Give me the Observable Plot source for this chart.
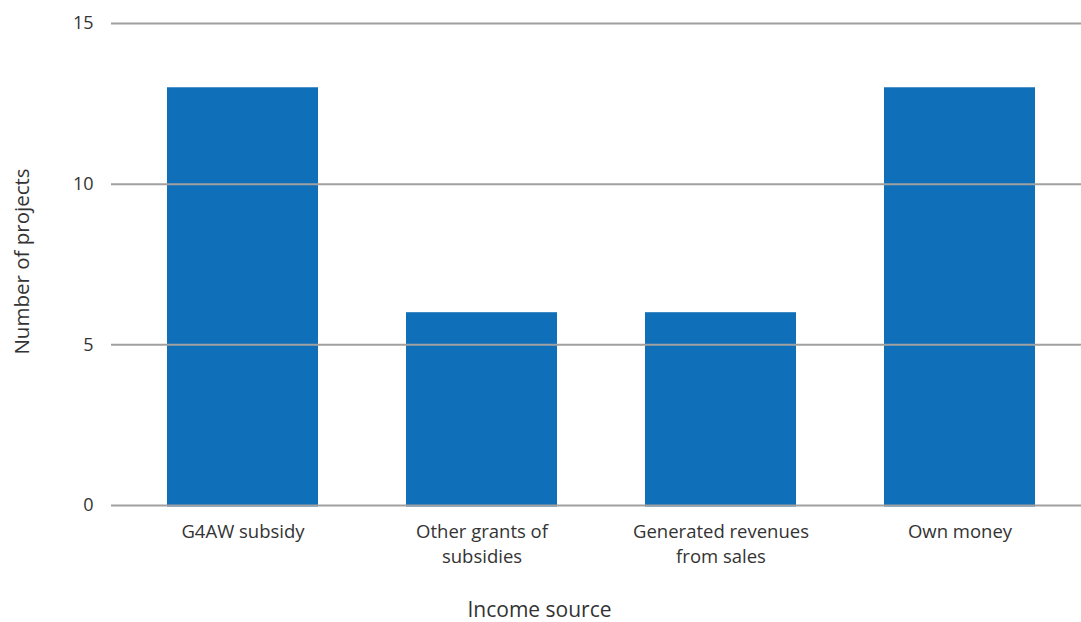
<!DOCTYPE html>
<html>
<head>
<meta charset="utf-8">
<script src="https://cdn.jsdelivr.net/npm/d3@7"></script>
<script src="https://cdn.jsdelivr.net/npm/@observablehq/plot@0.6"></script>
<style>
  html, body { margin: 0; padding: 0; background: #fff; }
  #chart svg { display: block; font-family: "Open Sans", sans-serif; }
</style>
</head>
<body>
<div id="chart"></div>
<script>
// Income sources of projects
const categories = ["G4AW subsidy", "Other grants of subsidies", "Generated revenues from sales", "Own money"];
const tickLabels = ["G4AW subsidy", "Other grants of\nsubsidies", "Generated revenues\nfrom sales", "Own money"];
const projectCounts = [13, 6, 6, 13];
const yTicks = [0, 5, 10, 15];
const xTitle = "Income source";
const yTitle = "Number of projects";

const data = categories.map((c, i) => ({category: c, count: projectCounts[i]}));
const labelOf = new Map(categories.map((c, i) => [c, tickLabels[i]]));

const textColor = "#333333";

const chart = Plot.plot({
  width: 1081,
  height: 622,
  marginLeft: 111,
  marginRight: 0,
  marginTop: 23,
  marginBottom: 117,
  style: {fontFamily: "Open Sans, sans-serif", fontSize: "17px", color: textColor, background: "#fff"},
  x: {domain: categories, range: [121, 1080], paddingInner: 0.37, paddingOuter: 0.185, label: null},
  y: {domain: [0, 15], ticks: yTicks, label: null},
  marks: [
    Plot.barY(data, {x: "category", y: "count", fill: "#0f6fb8", insetBottom: -1.5}),
    Plot.gridY(yTicks, {stroke: "#a0a0a0", strokeOpacity: 1, strokeWidth: 2}),
    Plot.axisY({ticks: yTicks, tickSize: 0, tickPadding: 18, label: null, fill: textColor, fontSize: 18}),
    Plot.axisX({tickSize: 0, tickPadding: 15, tickFormat: d => labelOf.get(d), label: null, fill: textColor, fontSize: 18.5, lineHeight: 1.35}),
    Plot.text([xTitle], {frameAnchor: "bottom", dx: -57, dy: 111, fill: textColor, fontSize: 21}),
    Plot.text([yTitle], {frameAnchor: "left", textAnchor: "middle", rotate: -90, dx: -89, dy: -3, fill: textColor, fontSize: 20.5})
  ]
});

document.getElementById("chart").appendChild(chart);
</script>
</body>
</html>
